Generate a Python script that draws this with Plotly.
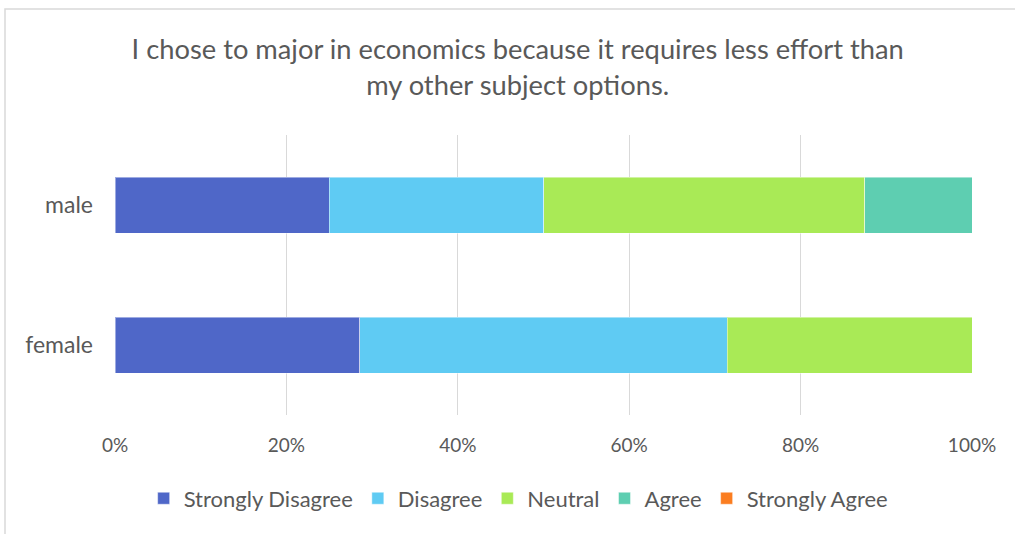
import plotly.graph_objects as go

categories = ["female", "male"]
series_names = ["Strongly Disagree", "Disagree", "Neutral", "Agree", "Strongly Agree"]
strongly_disagree = [2/7, 0.25]
disagree = [3/7, 0.25]
neutral = [2/7, 0.375]
agree = [0.0, 0.125]
strongly_agree = [0.0, 0.0]
values = [strongly_disagree, disagree, neutral, agree, strongly_agree]
colors = ["#4F67C8", "#5FCBF3", "#A9EA56", "#5ECEB1", "#FB7D20"]
tick_vals = [0, 0.2, 0.4, 0.6, 0.8, 1.0]
tick_text = ["0%", "20%", "40%", "60%", "80%", "100%"]

FONT = "Lato"
TXT = "#595959"

fig = go.Figure()
for name, vals, col in zip(series_names, values, colors):
    fig.add_trace(go.Bar(
        y=categories, x=vals, name=name, orientation="h",
        marker=dict(color=col, line=dict(color="rgba(255,255,255,0.45)", width=1)),
    ))

fig.update_layout(
    barmode="stack",
    bargap=0.6,
    width=1015, height=534,
    margin=dict(l=115, r=43, t=135, b=119),
    paper_bgcolor="white", plot_bgcolor="white",
    font=dict(family=FONT, color=TXT, size=18),
    title=dict(
        text="I chose to major in economics because it requires less effort than<br>my other subject options.",
        x=0.51, xanchor="center", y=0.889, yanchor="middle",
        font=dict(family=FONT, size=27.3, color=TXT),
    ),
    xaxis=dict(
        range=[0, 1.0], tickvals=tick_vals, ticktext=tick_text,
        showgrid=True, gridcolor="#D9D9D9", gridwidth=1, zeroline=False,
        showline=False, ticks="", ticklabelstandoff=17,
        tickfont=dict(size=19, color=TXT, family=FONT),
        fixedrange=True,
    ),
    yaxis=dict(
        range=[-0.5, 1.5], showgrid=False, zeroline=False, showline=False,
        ticks="", ticklabelstandoff=21, tickfont=dict(size=23, color=TXT, family=FONT),
    ),
    legend=dict(
        orientation="h", x=0.471, xanchor="center", y=-0.298, yanchor="middle",
        font=dict(size=22, color=TXT, family=FONT), traceorder="normal",
        itemwidth=30,
    ),
    shapes=[dict(type="rect", xref="paper", yref="paper",
                 x0=(5-115)/857, x1=1.3, y0=-1.0, y1=1 + (135-9)/280,
                 line=dict(color="#D9D9D9", width=1.5), layer="below")],
)

fig.write_html("out.html")
